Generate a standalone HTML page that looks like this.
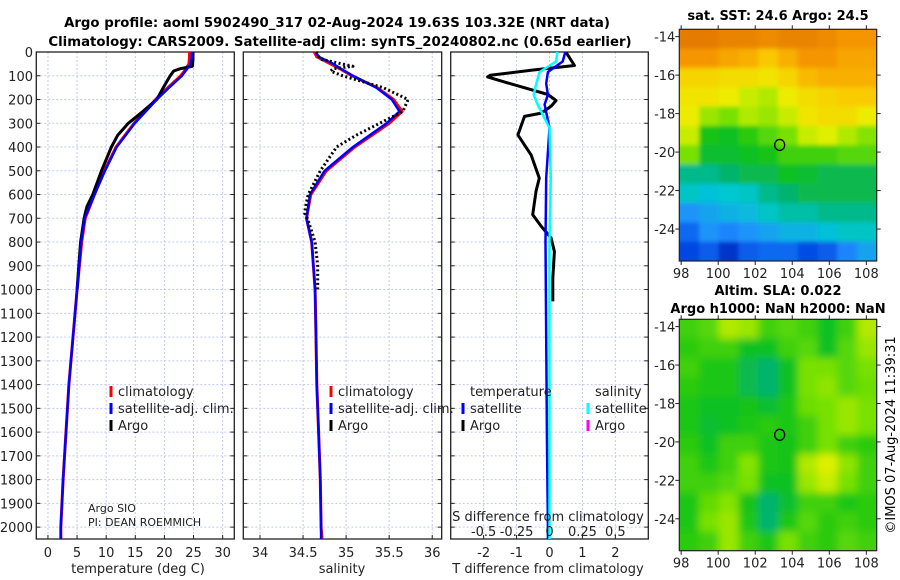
<!DOCTYPE html>
<html><head><meta charset="utf-8"><style>
html,body{margin:0;padding:0;background:#fff}
svg{display:block;font-family:"DejaVu Sans","Liberation Sans",sans-serif}
</style></head><body>
<svg id="chart" width="900" height="580" viewBox="0 0 900 580" xmlns="http://www.w3.org/2000/svg">
<text x="337" y="27" text-anchor="middle" font-size="13.3" font-weight="bold">Argo profile: aoml 5902490_317 02-Aug-2024 19.63S 103.32E (NRT data)</text>
<text x="340" y="46" text-anchor="middle" font-size="13.3" font-weight="bold">Climatology: CARS2009. Satellite-adj clim: synTS_20240802.nc (0.65d earlier)</text>
<g id="panels"></g>
<text x="778" y="20" text-anchor="middle" font-size="13" font-weight="bold">sat. SST: 24.6 Argo: 24.5</text>
<text x="778" y="295" text-anchor="middle" font-size="13" font-weight="bold">Altim. SLA: 0.022</text>
<text x="778" y="313" text-anchor="middle" font-size="13" font-weight="bold">Argo h1000: NaN h2000: NaN</text>
<text transform="translate(895,435) rotate(-90)" text-anchor="middle" font-size="13">©IMOS 07-Aug-2024 11:39:31</text>
</svg>
<script>
// ---- data ----
const depthTicks = [0,100,200,300,400,500,600,700,800,900,1000,1100,1200,1300,1400,1500,1600,1700,1800,1900,2000];
const climDepth = [0,20,50,75,100,150,200,250,300,400,500,600,700,800,1000,1200,1400,1600,1800,2000,2050];
const tempClim = [24.3,24.3,24.2,23.6,22.8,20.6,18.5,16.6,14.8,11.7,9.7,8.0,6.4,5.8,5.0,4.3,3.6,3.1,2.6,2.2,2.2];
const tempSat  = [24.7,24.7,24.5,23.8,23.0,20.8,18.7,16.8,14.9,11.8,9.8,8.0,6.3,5.7,5.0,4.3,3.6,3.1,2.6,2.2,2.2];
const salClim  = [34.63,34.66,34.82,34.95,35.07,35.36,35.55,35.65,35.5,35.1,34.77,34.59,34.54,34.6,34.64,34.65,34.66,34.68,34.7,34.71,34.72];
const salSat   = [34.65,34.68,34.85,34.96,35.08,35.35,35.53,35.62,35.47,35.08,34.75,34.58,34.54,34.6,34.64,34.65,34.66,34.68,34.7,34.71,34.71];
const argoDepth = [0,30,60,70,80,100,150,200,250,300,350,400,500,600,650,680,700,800,900,1000];
const tempArgo = [24.9,24.9,24.8,22.8,21.6,21.0,19.8,18.7,16.3,13.8,12.0,10.9,9.2,7.7,6.7,6.4,6.2,5.6,5.3,5.0];
const salArgo  = [34.65,34.7,35.08,34.85,34.82,34.96,35.43,35.72,35.66,35.39,35.12,34.89,34.7,34.56,34.53,34.52,34.55,34.64,34.67,34.67];
const diffDepth = [3,57,77,98,105,130,179,204,228,257,271,349,433,531,587,685,734,783,840,952,1050];
const tDiffArgo = [0.51,0.76,-0.56,-1.8,-1.88,-1.27,-0.05,0.2,0.05,-0.25,-0.76,-0.96,-0.56,-0.31,-0.41,-0.51,-0.25,0.05,0.15,0.1,0.1];
const satDiffDepth = [0,40,84,133,180,221,320,531,800,1200,1600,2000,2050];
const tDiffSat = [0.48,0.4,-0.05,-0.1,-0.05,-0.15,0,-0.1,-0.12,-0.1,-0.08,-0.05,-0.05];
const sDiffSat = [0.06,0.05,-0.075,-0.1,-0.12,-0.09,0.0,0.01,0.0,0.0,0.0,0.0,0.0];
const tempTicks = [0,5,10,15,20,25,30];
const salTicks = [34,34.5,35,35.5,36];
const tDiffTicks = [-2,-1,0,1,2];
const sDiffTicks = [-0.5,-0.25,0,0.25,0.5];
const sDiffLabels = ['-0.5','-0.25','0','0.25','0.5'];
const lonTicks = [98,100,102,104,106,108];
const latTicks = [-14,-16,-18,-20,-22,-24];
const argoLon = 103.32, argoLat = -19.63;
const sstGrid = [
[.92,.92,.9,.9,.88,.9,.9,.88,.85,.85],
[.85,.85,.82,.8,.75,.8,.85,.85,.82,.82],
[.72,.72,.7,.7,.68,.72,.78,.8,.8,.8],
[.68,.68,.66,.62,.6,.66,.7,.72,.74,.74],
[.66,.58,.55,.6,.58,.62,.68,.7,.7,.66],
[.62,.46,.45,.48,.52,.55,.62,.64,.6,.56],
[.55,.44,.44,.45,.46,.5,.5,.5,.52,.52],
[.38,.38,.4,.42,.42,.45,.44,.42,.42,.42],
[.34,.32,.33,.34,.38,.4,.42,.42,.42,.42],
[.26,.28,.3,.31,.34,.36,.36,.38,.38,.38],
[.2,.26,.24,.26,.28,.3,.3,.32,.34,.34],
[.15,.18,.1,.18,.2,.2,.16,.18,.24,.28]];
const slaGrid = [
[.5,.52,.6,.58,.5,.52,.5,.45,.5,.6],
[.48,.5,.5,.45,.45,.5,.52,.45,.52,.58],
[.5,.47,.47,.42,.4,.45,.55,.55,.52,.55],
[.48,.47,.47,.42,.4,.45,.55,.57,.52,.54],
[.47,.45,.45,.46,.44,.47,.54,.55,.58,.55],
[.47,.44,.45,.47,.48,.47,.5,.55,.58,.55],
[.48,.45,.5,.5,.47,.46,.5,.55,.5,.48],
[.5,.47,.5,.56,.47,.46,.6,.64,.57,.5],
[.5,.5,.52,.55,.45,.45,.58,.62,.55,.5],
[.47,.53,.56,.46,.4,.44,.5,.5,.47,.48],
[.47,.55,.58,.47,.4,.47,.52,.48,.5,.48],
[.48,.5,.58,.5,.47,.55,.5,.48,.52,.5]];

// ---- helpers ----
const NS='http://www.w3.org/2000/svg';
const root=document.getElementById('panels');
function el(tag,attrs,parent){const e=document.createElementNS(NS,tag);for(const k in attrs)e.setAttribute(k,attrs[k]);(parent||root).appendChild(e);return e;}
const top0=52, bot0=539, dMax=2050;
const yD=d=>top0+d/dMax*(bot0-top0);
function lin(d0,d1,r0,r1){return v=>r0+(v-d0)/(d1-d0)*(r1-r0);}

function panel(name,x0,x1,xScale,gridVals){
  const g=el('g',{});
  
  
  depthTicks.forEach(d=>{const l=el('line',{x1:x0,x2:x1,y1:yD(d),y2:yD(d),stroke:'#c4c8ee','stroke-width':1,'stroke-dasharray':'2,2'},g);
    el('line',{x1:x0,x2:x0+4,y1:yD(d),y2:yD(d),stroke:'#222'},g);el('line',{x1:x1-4,x2:x1,y1:yD(d),y2:yD(d),stroke:'#222'},g);});
  gridVals.forEach(v=>{const l=el('line',{x1:xScale(v),x2:xScale(v),y1:top0,y2:bot0,stroke:'#c4c8ee','stroke-width':1,'stroke-dasharray':'2,2'},g);
    el('line',{x1:xScale(v),x2:xScale(v),y1:bot0,y2:bot0-4,stroke:'#222'},g);});
  const f=el('rect',{x:x0,y:top0,width:x1-x0,height:bot0-top0,fill:'none',stroke:'#222','stroke-width':1.3},g);
  
  return g;
}
function series(g,name,xs,ds,xScale,color,w,dash){
  const pts=xs.map((v,i)=>xScale(v).toFixed(1)+','+yD(ds[i]).toFixed(1)).join(' ');
  const p=el('polyline',{points:pts,fill:'none',stroke:color,'stroke-width':w,'stroke-linejoin':'round'},g);
  if(dash)p.setAttribute('stroke-dasharray',dash);
  
  
}
function text(g,name,x,y,s,opts){
  const t=el('text',Object.assign({x:x,y:y,'font-size':13,fill:'#222'},opts||{}),g);t.textContent=s;
  
  
  return t;
}
function legendItem(g,name,x,y,color,label){
  const r=el('rect',{x:x-1.5,y:y-10,width:3,height:11,fill:color},g);
  
  text(g,name,x+7,y,label);
}

// ---- panel 1: temperature ----
const xT=lin(-2,32,36.3,234.3);
const g1=panel('temperature-panel',36.3,234.3,xT,tempTicks);
series(g1,'temp-climatology-line',tempClim,climDepth,xT,'#f00',3);
series(g1,'temp-argo-line',tempArgo,argoDepth,xT,'#000',3);
series(g1,'temp-satellite-line',tempSat,climDepth,xT,'#00f',2.5);
depthTicks.forEach(d=>text(g1,'y-tick-label',33,yD(d)+5,String(d),{'text-anchor':'end'}));
tempTicks.forEach(v=>text(g1,'x-tick-label',xT(v),557,String(v),{'text-anchor':'middle'}));
text(g1,'x-axis-title',138,573,'temperature (deg C)',{'text-anchor':'middle'});
legendItem(g1,'legend-climatology',111,396,'#f00','climatology');
legendItem(g1,'legend-satellite-adj',111,413,'#00f','satellite-adj. clim.');
legendItem(g1,'legend-argo',111,430,'#000','Argo');
text(g1,'argo-institution',88,512,'Argo SIO',{'font-size':11});
text(g1,'argo-pi',88,526,'PI: DEAN ROEMMICH',{'font-size':11});

// ---- panel 2: salinity ----
const xS=lin(33.806,36.11,243.3,441.7);
const g2=panel('salinity-panel',243.3,441.7,xS,salTicks);
series(g2,'sal-climatology-line',salClim,climDepth,xS,'#f00',3);
series(g2,'sal-satellite-line',salSat,climDepth,xS,'#00f',2.5);
series(g2,'sal-argo-line',salArgo,argoDepth,xS,'#000',3,'2,2.5');
salTicks.forEach(v=>text(g2,'x-tick-label',xS(v),557,String(v),{'text-anchor':'middle'}));
text(g2,'x-axis-title',342,573,'salinity',{'text-anchor':'middle'});
legendItem(g2,'legend-climatology',331,396,'#f00','climatology');
legendItem(g2,'legend-satellite-adj',331,413,'#00f','satellite-adj. clim.');
legendItem(g2,'legend-argo',331,430,'#000','Argo');

// ---- panel 3: differences ----
const xDT=lin(-3,3,450.7,648.3);
const xDS=v=>xDT(v*4);
const g3=panel('difference-panel',450.7,648.3,xDT,tDiffTicks);
series(g3,'t-diff-argo-line',tDiffArgo,diffDepth,xDT,'#000',3);
series(g3,'t-diff-satellite-line',tDiffSat,satDiffDepth,xDT,'#00f',2.5);
series(g3,'s-diff-satellite-line',sDiffSat,satDiffDepth,xDS,'#0ff',2.5);
tDiffTicks.forEach(v=>text(g3,'x-tick-label',xDT(v),557,String(v),{'text-anchor':'middle'}));
text(g3,'x-axis-title',548,573,'T difference from climatology',{'text-anchor':'middle'});
text(g3,'s-axis-title',548,521,'S difference from climatology',{'text-anchor':'middle'});
sDiffTicks.forEach((v,i)=>text(g3,'s-tick-label',xDS(v),536,sDiffLabels[i],{'text-anchor':'middle'}));
text(g3,'legend-temperature-heading',470,396,'temperature');
legendItem(g3,'legend-t-satellite',463,413,'#00f','satellite');
legendItem(g3,'legend-t-argo',463,430,'#000','Argo');
text(g3,'legend-salinity-heading',595,396,'salinity');
legendItem(g3,'legend-s-satellite',588,413,'#0ff','satellite');
legendItem(g3,'legend-s-argo',588,430,'#f0f','Argo');

// ---- maps ----
const cmapStops=[[0,[0,16,150]],[.15,[0,70,225]],[.25,[30,140,255]],[.33,[0,200,210]],[.4,[0,180,110]],[.46,[20,195,20]],[.55,[120,225,0]],[.65,[235,240,0]],[.75,[250,200,0]],[.85,[245,150,0]],[1,[210,95,0]]];
function cmap(v){for(let i=1;i<cmapStops.length;i++){if(v<=cmapStops[i][0]){const a=cmapStops[i-1],b=cmapStops[i],t=(v-a[0])/(b[0]-a[0]);return 'rgb('+a[1].map((c,k)=>Math.round(c+(b[1][k]-c)*t)).join(',')+')';}}return 'rgb(210,95,0)';}
const defs=el('defs',{});
const flt=el('filter',{id:'blur',x:'-10%',y:'-10%',width:'120%',height:'120%'},defs);
el('feGaussianBlur',{stdDeviation:4},flt);
const flt2=el('filter',{id:'blur2',x:'-10%',y:'-10%',width:'120%',height:'120%'},defs);
el('feGaussianBlur',{stdDeviation:2},flt2);
function map(name,x0,x1,y0,y1,latTop,latBot,grid,blurId){
  const g=el('g',{});
  
  
  const cid=name+'-clip';
  const cp=el('clipPath',{id:cid},defs);el('rect',{x:x0,y:y0,width:x1-x0,height:y1-y0},cp);
  const xL=lin(97.9,108.56,x0,x1), yL=lin(latTop,latBot,y0,y1);
  const img=el('g',{'clip-path':'url(#'+cid+')'},g);
  const inner=el('g',{filter:'url(#'+blurId+')'},img);
  const rows=grid.length, cols=grid[0].length, cw=(x1-x0)/cols, ch=(y1-y0)/rows;
  grid.forEach((row,r)=>row.forEach((v,c)=>{
    const cell=el('rect',{x:x0+c*cw-(c==0?8:0),y:y0+r*ch-(r==0?8:0),width:cw+(c==0||c==cols-1?8.5:0.5),height:ch+(r==0||r==rows-1?8.5:0.5),fill:cmap(v)},inner);
    
    
  }));
  el('rect',{x:x0,y:y0,width:x1-x0,height:y1-y0,fill:'none',stroke:'#222','stroke-width':1.2},g);
  lonTicks.forEach(v=>{el('line',{x1:xL(v),x2:xL(v),y1:y1,y2:y1+4,stroke:'#222'},g);text(g,'lon-tick-label',xL(v),y1+17,String(v),{'text-anchor':'middle'});el('line',{x1:xL(v),x2:xL(v),y1:y0,y2:y0-4,stroke:'#222'},g);});
  latTicks.forEach(v=>{el('line',{x1:x0-4,x2:x0,y1:yL(v),y2:yL(v),stroke:'#222'},g);el('line',{x1:x1,x2:x1+4,y1:yL(v),y2:yL(v),stroke:'#222'},g);text(g,'lat-tick-label',x0-4,yL(v)+5,String(v),{'text-anchor':'end'});});
  const c=el('ellipse',{cx:xL(argoLon),cy:yL(argoLat),rx:5,ry:5.5,fill:'none',stroke:'#000','stroke-width':1.3},g);
  
  
}
map('sst-map',679.3,876.7,29.3,261,-13.62,-25.66,sstGrid,'blur2');
map('sla-map',679.3,876.7,319.3,550.7,-13.62,-25.66,slaGrid,'blur');
</script>
</body></html>
